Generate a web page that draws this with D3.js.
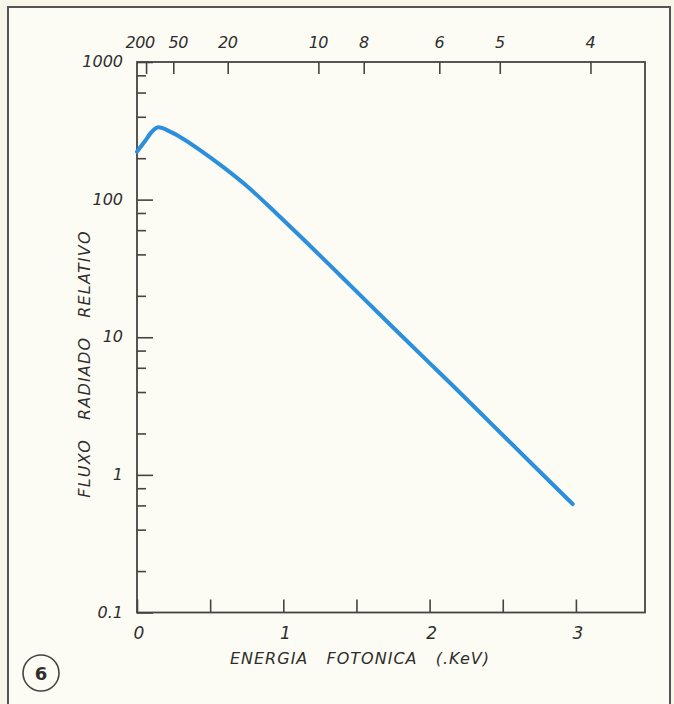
<!DOCTYPE html>
<html><head><meta charset="utf-8">
<script src="https://cdn.jsdelivr.net/npm/d3@7"></script>
<style>
html,body{margin:0;padding:0;background:#f8f6e8;}
svg{display:block;}
text{font-family:"DejaVu Sans",sans-serif;font-style:italic;fill:#2e2e2e;}
</style></head>
<body>
<script>
// ---- data ----
const energyKeV = [0, 0.05, 0.10, 0.146, 0.226, 0.30, 0.431, 0.59, 0.772, 0.955, 1.137, 1.40, 1.70, 2.00, 2.119, 2.40, 2.70, 2.978];
const relFlux   = [223, 262, 310, 335, 312, 283, 229, 172, 120, 79, 51.5, 27.4, 13.3, 6.48, 4.89, 2.48, 1.20, 0.614];
const xTickValues = [0, 0.5, 1, 1.5, 2, 2.5, 3];
const xTickLabels = ["0", "", "1", "", "2", "", "3"];
const yMajorValues = [1000, 100, 10, 1, 0.1];
const yMajorLabels = ["1000", "100", "10", "1", "0.1"];
const yMinorMultiples = [2, 4, 6, 8];
const wavelengthA = [200, 50, 20, 10, 8, 6, 5, 4];
const wavelengthLabels = ["200", "50", "20", "10", "8", "6", "5", "4"];
const xTitle = "ENERGIA   FOTONICA   (.KeV)";
const yTitle = "FLUXO   RADIADO   RELATIVO";
const figureNumber = "6";

// ---- layout ----
const W = 674, H = 704;
const pL = 137, pR = 645, pT = 62, pB = 612.5;

const svg = d3.select("body").append("svg").attr("width", W).attr("height", H);

svg.append("rect").attr("x", 0).attr("y", 0).attr("width", W).attr("height", H).attr("fill", "#f8f6e8");
// outer frame
svg.append("rect").attr("x", 8).attr("y", 7).attr("width", 662).attr("height", 720)
  .attr("fill", "#fdfcf4").attr("stroke", "#555").attr("stroke-width", 2);

const x = d3.scaleLinear().domain([0, (pR - pL) / 146.3]).range([pL, pR]);
const y = d3.scaleLog().domain([0.1, 1000]).range([pB, pT]);

const axisColor = "#444";

// plot box
svg.append("rect").attr("x", pL).attr("y", pT).attr("width", pR - pL).attr("height", pB - pT)
  .attr("fill", "none").attr("stroke", axisColor).attr("stroke-width", 1.8);

// bottom axis (ticks inward)
const bottomAxis = d3.axisBottom(x).tickValues(xTickValues).tickSize(-13).tickFormat("");
const gB = svg.append("g").attr("transform", `translate(0,${pB})`).call(bottomAxis);
gB.select(".domain").remove();
gB.selectAll("line").attr("stroke", axisColor).attr("stroke-width", 1.6);
svg.append("g").selectAll("text").data(xTickValues.map((v, i) => ({ v, l: xTickLabels[i] })).filter(d => d.l))
  .join("text").attr("x", d => x(d.v) + 2).attr("y", pB + 26).attr("text-anchor", "middle")
  .attr("font-size", 17).text(d => d.l);

// top axis: wavelength in Angstrom (E = 12.4 / lambda)
const topAxis = d3.axisTop(x).tickValues(wavelengthA.map(l => 12.398 / l)).tickSize(-12).tickFormat("");
const gT = svg.append("g").attr("transform", `translate(0,${pT})`).call(topAxis);
gT.select(".domain").remove();
gT.selectAll("line").attr("stroke", axisColor).attr("stroke-width", 1.6);
const topLabelOffsets = [-6, 5, 0, 0, 0, 0, 0, 0];
svg.append("g").selectAll("text").data(wavelengthA.map((l, i) => ({ l, t: wavelengthLabels[i], dx: topLabelOffsets[i] })))
  .join("text").attr("x", d => x(12.398 / d.l) + d.dx).attr("y", pT - 14).attr("text-anchor", "middle")
  .attr("font-size", 16).attr("letter-spacing", -0.5).text(d => d.t);

// left axis major ticks
const leftMajor = d3.axisLeft(y).tickValues(yMajorValues).tickSize(-16).tickFormat("");
const gL = svg.append("g").attr("transform", `translate(${pL},0)`).call(leftMajor);
gL.select(".domain").remove();
gL.selectAll("line").attr("stroke", axisColor).attr("stroke-width", 1.6);
// left axis minor ticks
const minorVals = [];
[0.1, 1, 10, 100].forEach(d => yMinorMultiples.forEach(m => minorVals.push(d * m)));
const leftMinor = d3.axisLeft(y).tickValues(minorVals).tickSize(-9).tickFormat("");
const gLm = svg.append("g").attr("transform", `translate(${pL},0)`).call(leftMinor);
gLm.select(".domain").remove();
gLm.selectAll("line").attr("stroke", axisColor).attr("stroke-width", 1.6);
svg.append("g").selectAll("text").data(yMajorValues.map((v, i) => ({ v, l: yMajorLabels[i] })))
  .join("text").attr("x", pL - 14).attr("y", d => y(d.v) + 5).attr("text-anchor", "end")
  .attr("font-size", 16).text(d => d.l);

// axis titles
svg.append("text").attr("x", 360).attr("y", 664).attr("text-anchor", "middle")
  .attr("font-size", 16).attr("letter-spacing", 1).style("white-space", "pre").text(xTitle);
svg.append("text").attr("transform", "translate(90,364) rotate(-90)").attr("text-anchor", "middle")
  .attr("font-size", 16).attr("letter-spacing", 1.2).style("white-space", "pre").text(yTitle);

// curve
const line = d3.line().x((d, i) => x(energyKeV[i])).y(d => y(d)).curve(d3.curveMonotoneX);
svg.append("path").attr("d", line(relFlux)).attr("fill", "none").attr("stroke", "#2b8fde")
  .attr("stroke-width", 4).attr("stroke-linecap", "round").attr("stroke-linejoin", "round");

// figure number
svg.append("circle").attr("cx", 41).attr("cy", 673).attr("r", 18).attr("fill", "none")
  .attr("stroke", "#444").attr("stroke-width", 1.6);
svg.append("text").attr("x", 41).attr("y", 680).attr("text-anchor", "middle").attr("font-size", 18)
  .attr("font-weight", "bold").style("font-style", "normal").attr("font-family", "'DejaVu Sans Condensed','DejaVu Sans',sans-serif")
  .text(figureNumber);
</script>
</body></html>
